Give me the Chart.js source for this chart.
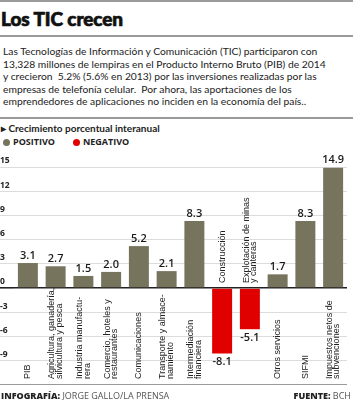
<!DOCTYPE html>
<html>
<head>
<meta charset="utf-8">
<script src="https://cdn.jsdelivr.net/npm/chart.js@4/dist/chart.umd.min.js"></script>
<style>
  html, body { margin: 0; padding: 0; background: #fff; }
  body { width: 353px; height: 400px; position: relative; overflow: hidden; color: #222; font-family: Lato, "Open Sans", sans-serif; }
  .rule { position: absolute; left: 0; width: 353px; background: #9a9a9a; }
  #title { position: absolute; left: 1px; top: 9px; font: 900 19px/19px Lato, sans-serif; color: #111; letter-spacing: -0.1px; -webkit-text-stroke: 0.7px #111; }
  #intro { position: absolute; left: 3px; top: 45px; font: 400 10.3px/12.5px Lato, sans-serif; white-space: nowrap; color: #222; }
  #sub { position: absolute; left: 1px; top: 122px; font: 700 10px/12px Lato, sans-serif; color: #222; }
  #legend { position: absolute; left: 3px; top: 136px; font: 700 9px/12px "Open Sans", sans-serif; color: #222; }
  #legend span.dot { display: inline-block; width: 7px; height: 7px; border-radius: 50%; margin-right: 3px; vertical-align: -0.5px; }
  #legend span.item { margin-right: 18px; }
  #chart { position: absolute; left: 0; top: 150px; }
  #foot-l { position: absolute; left: 1px; top: 390px; font: 400 9px/12px "Open Sans", sans-serif; color: #555; }
  #foot-r { position: absolute; right: 2px; top: 390px; font: 400 9px/12px "Open Sans", sans-serif; color: #555; }
  #foot-l b, #foot-r b { color: #222; font-weight: 800; }
</style>
</head>
<body>
<div class="rule" style="top:0;height:2px"></div>
<div id="title">Los TIC crecen</div>
<div class="rule" style="top:35px;height:2px"></div>
<div id="intro">Las Tecnologías de Información y Comunicación (TIC) participaron con<br>13,328 millones de lempiras en el Producto Interno Bruto (PIB) de 2014<br>y crecieron&nbsp; 5.2% (5.6% en 2013) por las inversiones realizadas por las<br>empresas de telefonía celular.&nbsp; Por ahora, las aportaciones de los<br>emprendedores de aplicaciones no inciden en la economía del país..</div>
<div class="rule" style="top:117px;height:2px"></div>
<div id="sub">&#9656; Crecimiento porcentual interanual</div>
<div id="legend"><span class="item"><span class="dot" style="background:#77745e"></span>POSITIVO</span><span class="item"><span class="dot" style="background:#e00000"></span>NEGATIVO</span></div>
<canvas id="chart" width="353" height="240"></canvas>
<div id="foot-l"><b>INFOGRAFÍA:</b> JORGE GALLO/LA PRENSA</div>
<div id="foot-r"><b>FUENTE:</b> BCH</div>

<script>
// sectors (multi-line labels as arrays)
const sectors = [
  "PIB",
  ["Agricultura, ganadería,", "silvicultura y pesca"],
  ["Industria manufactu-", "rera"],
  ["Comercio, hoteles y", "restaurantes"],
  "Comunicaciones",
  ["Transporte y almace-", "namiento"],
  ["Intermediación", "financiera"],
  "Construcción",
  ["Explotación de minas", "y canteras"],
  "Otros servicios",
  "SIFMI",
  ["Impuestos netos de", "subvenciones"],
];
const growth = [3.1, 2.7, 1.5, 2.0, 5.2, 2.1, 8.3, -8.1, -5.1, 1.7, 8.3, 14.9];
const yTicks = [-12, -9, -6, -3, 0, 3, 6, 9, 12, 15];

const POS = "#77745e";
const NEG = "#e00000";

// value + rotated sector labels, placed with the chart's own scales
const barLabels = {
  id: "barLabels",
  afterDatasetsDraw(chart) {
    const { ctx, scales: { y } } = chart;
    const meta = chart.getDatasetMeta(0);
    ctx.save();
    meta.data.forEach((bar, i) => {
      const v = growth[i];
      ctx.fillStyle = "#1a1a1a";
      ctx.font = "600 11px 'Open Sans', sans-serif";
      ctx.textAlign = "center";
      if (v >= 0) {
        ctx.textBaseline = "bottom";
        ctx.fillText(v.toFixed(1), bar.x, bar.y - 2);
      } else {
        ctx.textBaseline = "top";
        ctx.fillText(v.toFixed(1), bar.x, bar.y + 3);
      }

      const lines = [].concat(sectors[i]);
      const startY = v >= 0 ? y.getPixelForValue(yTicks[0]) - 6 : y.getPixelForValue(0) - 5;
      ctx.save();
      ctx.translate(bar.x, startY);
      ctx.rotate(-Math.PI / 2);
      ctx.font = "400 9px 'Liberation Sans Narrow', 'Liberation Sans', sans-serif";
      ctx.fillStyle = "#222";
      ctx.textAlign = "left";
      ctx.textBaseline = "middle";
      const lh = 7.5;
      lines.forEach((ln, k) => ctx.fillText(ln, 0, (k - (lines.length - 1) / 2) * lh));
      ctx.restore();
    });
    ctx.restore();
  },
};

new Chart(document.getElementById("chart"), {
  type: "bar",
  data: {
    labels: sectors,
    datasets: [{
      data: growth,
      backgroundColor: growth.map((v) => (v < 0 ? NEG : POS)),
      barPercentage: 0.72,
      categoryPercentage: 1,
    }],
  },
  options: {
    responsive: false,
    animation: false,
    layout: { padding: { top: 17, right: 6, bottom: 3.4, left: 0 } },
    plugins: { legend: { display: false }, tooltip: { enabled: false } },
    scales: {
      x: { display: false },
      y: {
        min: yTicks[0],
        max: yTicks[yTicks.length - 1],
        afterBuildTicks: (s) => { s.ticks = yTicks.map((v) => ({ value: v })); },
        afterFit: (s) => { s.width = 14; },
        border: { display: false },
        grid: {
          drawTicks: true,
          tickLength: 14,
          color: (c) => (c.tick.value === 0 ? "#222" : c.tick.value === yTicks[0] ? "#9a9a9a" : "#dcdcdc"),
          lineWidth: (c) => (c.tick.value === 0 ? 1.6 : 1),
        },
        ticks: {
          crossAlign: "far",
          padding: 0,
          labelOffset: -6,
          color: "#222",
          font: { family: "'Open Sans', sans-serif", size: 8.5, weight: "700" },
          callback: (v) => (v === yTicks[0] ? "" : v),
        },
      },
    },
  },
  plugins: [barLabels],
});
</script>
</body>
</html>
